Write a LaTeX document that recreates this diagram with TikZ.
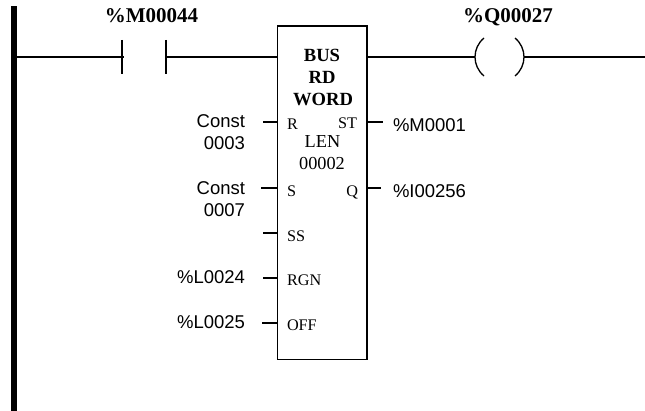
\documentclass[tikz,border=0pt]{standalone}
\usepackage{fontspec}
\setmainfont{Liberation Serif}
\newfontfamily\labelsans{Liberation Sans}
\tikzset{
  wire/.style={line width=1.2pt,black},
  bar/.style={line width=1.3pt,black},
  txt/.style={inner sep=0pt,outer sep=0pt,text=black},
  tag/.style={txt,anchor=base,font=\fontsize{21}{24}\selectfont\bfseries},
  fname/.style={txt,anchor=base,font=\fontsize{18.6}{22}\selectfont\bfseries},
  pin/.style={txt,font=\fontsize{16.2}{19}\selectfont},
  lenlabel/.style={txt,anchor=base,font=\fontsize{18.3}{22}\selectfont},
  operand/.style={txt,font=\fontsize{18.5}{22}\labelsans\selectfont},
  fblock/.style={draw=black,line width=1.3pt,fill=white,inner sep=0pt,outer sep=0pt,minimum width=89.5pt,minimum height=333.3pt,anchor=north west},
  rail/.style={fill=black,inner sep=0pt,outer sep=0pt,minimum width=6pt,minimum height=405pt,anchor=north west}
}
\begin{document}
\begin{tikzpicture}[x=1pt,y=-1pt]
\useasboundingbox (0,0) rectangle (645,411);
% power rail
\node[rail] (rail) at (11,6) {};
% function block
\node[fblock] (block) at (277.5,26) {};
% contact
\coordinate (ctLtop) at (122,40); \coordinate (ctLbot) at (122,74); \coordinate (ctL) at (124,57);
\coordinate (ctRtop) at (166,40); \coordinate (ctRbot) at (166,74); \coordinate (ctR) at (166,57);
\draw[bar] (ctLtop) -- (ctLbot);
\draw[bar] (ctRtop) -- (ctRbot);
% coil
\coordinate (coilLt) at (484,38); \coordinate (coilL) at (475,57); \coordinate (coilLb) at (484,76);
\coordinate (coilRt) at (515,38); \coordinate (coilR) at (524,57); \coordinate (coilRb) at (515,76);
\coordinate (rungend) at (645,57);
\draw[bar] (coilLt) .. controls (478,43) and (475,50) .. (coilL) .. controls (475,64) and (478,71) .. (coilLb);
\draw[bar] (coilRt) .. controls (521,43) and (524,50) .. (coilR) .. controls (524,64) and (521,71) .. (coilRb);
% rung
\draw[wire] (rail.east |- ctL) -- (ctL);
\draw[wire] (ctR) -- (block.west |- ctR);
\draw[wire] (block.east |- coilL) -- (coilL);
\draw[wire] (coilR) -- (rungend);
% tags
\node[tag] (tagM) at (151.5,23) {\%M00044};
\node[tag] (tagQ) at (508,23) {\%Q00027};
% function name
\node[fname] (fn1) at (322,62) {BUS};
\node[fname] (fn2) at (322,84) {RD};
\node[fname] (fn3) at (323,106) {WORD};
% length
\node[lenlabel] (len) at (322.5,148) {LEN};
\node[lenlabel] (lenv) at (322,170) {00002};
% input pins
\node[pin,anchor=base west] (pR) at (287,130) {R};
\node[pin,anchor=base west] (pS) at (287,197) {S};
\node[pin,anchor=base west] (pSS) at (287,242) {SS};
\node[pin,anchor=base west] (pRGN) at (287,286) {RGN};
\node[pin,anchor=base west] (pOFF) at (287,331) {OFF};
% output pins
\node[pin,anchor=base east] (pST) at (357,129) {ST};
\node[pin,anchor=base east] (pQ) at (358,197) {Q};
% input operands
\node[operand,anchor=base east] (c1a) at (245,128) {Const};
\node[operand,anchor=base east] (c1b) at (245,150) {0003};
\node[operand,anchor=base east] (c2a) at (245,195) {Const};
\node[operand,anchor=base east] (c2b) at (245,217) {0007};
\node[operand,anchor=base east] (l24) at (245,284) {\%L0024};
\node[operand,anchor=base east] (l25) at (245,329) {\%L0025};
% output operands
\node[operand,anchor=base west] (m1) at (393,132) {\%M0001};
\node[operand,anchor=base west] (i256) at (393,198) {\%I00256};
% stubs
\coordinate (sR) at (263,122); \coordinate (sS) at (261,188); \coordinate (sSS) at (263,233);
\coordinate (sRGN) at (263,278); \coordinate (sOFF) at (262,323);
\coordinate (sST) at (383,122); \coordinate (sQ) at (381,188);
\draw[bar] (sR) -- (block.west |- sR);
\draw[bar] (sS) -- (block.west |- sS);
\draw[bar] (sSS) -- (block.west |- sSS);
\draw[bar] (sRGN) -- (block.west |- sRGN);
\draw[bar] (sOFF) -- (block.west |- sOFF);
\draw[bar] (block.east |- sST) -- (sST);
\draw[bar] (block.east |- sQ) -- (sQ);
\end{tikzpicture}
\end{document}
